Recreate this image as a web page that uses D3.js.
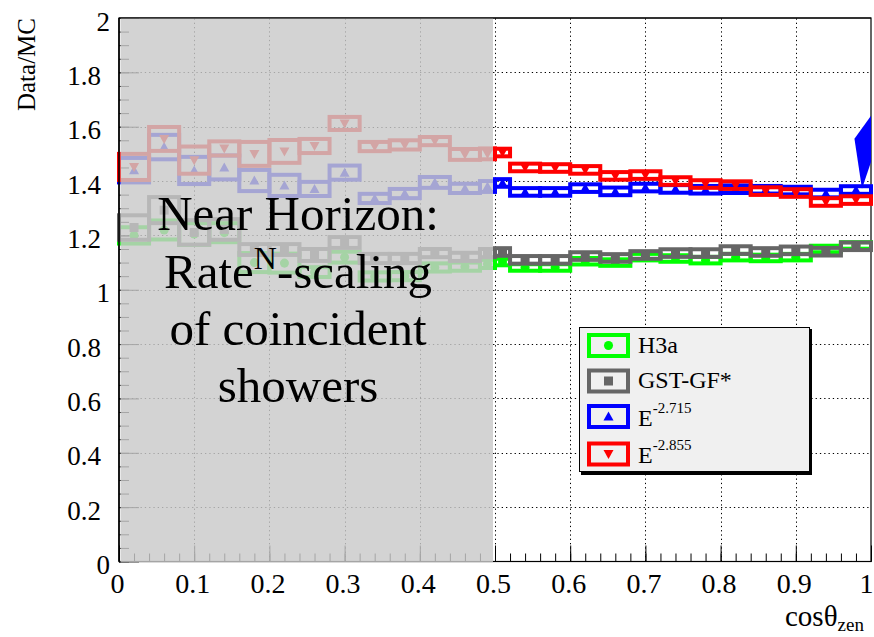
<!DOCTYPE html>
<html>
<head>
<meta charset="utf-8">
<script src="https://cdn.jsdelivr.net/npm/d3@7"></script>
<style>
  body { margin: 0; background: #fff; }
  svg { display: block; }
</style>
</head>
<body>
<svg id="chart" width="874" height="637"></svg>
<script>
// Bin edges in cos(theta_zen): 0.04 wide, split at 0.5
const binEdges = [0.00, 0.04, 0.08, 0.12, 0.16, 0.20, 0.24, 0.28, 0.32, 0.36, 0.40, 0.44, 0.48, 0.50,
                  0.52, 0.56, 0.60, 0.64, 0.68, 0.72, 0.76, 0.80, 0.84, 0.88, 0.92, 0.96, 1.00];

// Data/MC ratio per bin and its uncertainty, one pair of arrays per model
const h3aValues   = [1.200, 1.220, 1.205, 1.210, 1.100, 1.098, 1.065, 1.120, 1.049, 1.050, 1.082, 1.085, 1.095,
                     1.102, 1.082, 1.082, 1.105, 1.100, 1.120, 1.115, 1.109, 1.120, 1.117, 1.120, 1.150, 1.163];
const h3aErrors   = [0.030, 0.035, 0.040, 0.035, 0.035, 0.035, 0.018, 0.020, 0.015, 0.015, 0.015, 0.015, 0.015,
                     0.012, 0.012, 0.012, 0.012, 0.012, 0.012, 0.012, 0.012, 0.012, 0.012, 0.012, 0.012, 0.012];
const gstValues   = [1.229, 1.293, 1.211, 1.222, 1.148, 1.148, 1.128, 1.174, 1.115, 1.115, 1.135, 1.121, 1.135,
                     1.139, 1.110, 1.110, 1.124, 1.117, 1.128, 1.135, 1.135, 1.146, 1.139, 1.145, 1.140, 1.160];
const gstErrors   = [0.045, 0.048, 0.045, 0.038, 0.020, 0.020, 0.022, 0.020, 0.017, 0.017, 0.015, 0.015, 0.015,
                     0.014, 0.014, 0.014, 0.014, 0.014, 0.014, 0.014, 0.014, 0.014, 0.014, 0.014, 0.014, 0.014];
const e2715Values = [1.440, 1.525, 1.439, 1.450, 1.402, 1.384, 1.371, 1.431, 1.336, 1.354, 1.395, 1.373, 1.380,
                     1.393, 1.360, 1.360, 1.374, 1.362, 1.376, 1.371, 1.368, 1.370, 1.368, 1.365, 1.354, 1.367];
const e2715Errors = [0.045, 0.045, 0.050, 0.044, 0.039, 0.039, 0.026, 0.026, 0.017, 0.017, 0.020, 0.017, 0.020,
                     0.014, 0.014, 0.014, 0.014, 0.014, 0.014, 0.014, 0.014, 0.014, 0.014, 0.014, 0.014, 0.014];
const e2855Values = [1.452, 1.555, 1.477, 1.520, 1.500, 1.509, 1.529, 1.612, 1.527, 1.533, 1.547, 1.498, 1.500,
                     1.505, 1.450, 1.448, 1.441, 1.419, 1.422, 1.400, 1.389, 1.385, 1.363, 1.356, 1.323, 1.330];
const e2855Errors = [0.048, 0.044, 0.050, 0.026, 0.044, 0.042, 0.026, 0.024, 0.017, 0.017, 0.015, 0.020, 0.020,
                     0.014, 0.014, 0.014, 0.014, 0.014, 0.014, 0.014, 0.014, 0.014, 0.014, 0.014, 0.014, 0.014];

// Axis ticks
const xTickValues = [0, 0.1, 0.2, 0.3, 0.4, 0.5, 0.6, 0.7, 0.8, 0.9, 1];
const xTickLabels = ["0", "0.1", "0.2", "0.3", "0.4", "0.5", "0.6", "0.7", "0.8", "0.9", "1"];
const yTickValues = [0, 0.2, 0.4, 0.6, 0.8, 1, 1.2, 1.4, 1.6, 1.8, 2];
const yTickLabels = ["0", "0.2", "0.4", "0.6", "0.8", "1", "1.2", "1.4", "1.6", "1.8", "2"];

// Near-horizon region (shaded) and its caption
const shadedRange = [0, 0.5];
const captionLines = ["Near Horizon:", "Rate", "of coincident", "showers"];

// Overflow arrow at the right edge, in (cos, ratio)
const arrowOutline = [[0.978, 1.556], [1.0, 1.640], [1.0, 1.470], [0.988, 1.372]];

const legendLabels = ["H3a", "GST-GF*", "E", "E"];
const legendSup = ["", "", "-2.715", "-2.855"];

const serif = "'Liberation Serif', 'Times New Roman', serif";

const svg = d3.select("#chart");
const x = d3.scaleLinear().domain([0, 1]).range([119, 871]);
const y = d3.scaleLinear().domain([0, 2]).range([561.5, 18]);

const series = [
  { name: "H3a",    values: h3aValues,   errors: h3aErrors,   color: "#00ff00", marker: "circle" },
  { name: "GST",    values: gstValues,   errors: gstErrors,   color: "#666666", marker: "square" },
  { name: "E2715",  values: e2715Values, errors: e2715Errors, color: "#0000ff", marker: "up" },
  { name: "E2855",  values: e2855Values, errors: e2855Errors, color: "#ff0000", marker: "down" }
];

const markerPath = {
  circle: d3.symbol(d3.symbolCircle, 64)(),
  square: d3.symbol(d3.symbolSquare, 81)(),
  up: "M-5,4L5,4L0,-5Z",
  down: "M-5,-4L5,-4L0,5Z"
};

// Frame background
svg.append("rect").attr("width", 874).attr("height", 637).attr("fill", "#fff");

// Dotted grid
const gridG = svg.append("g").attr("stroke", "#000").attr("stroke-width", 1).attr("stroke-dasharray", "1.3,3");
gridG.selectAll("line.gx").data(xTickValues.slice(1, -1)).join("line")
  .attr("x1", d => Math.round(x(d)) + 0.5).attr("x2", d => Math.round(x(d)) + 0.5)
  .attr("y1", y(0)).attr("y2", y(2));
gridG.selectAll("line.gy").data(yTickValues.slice(1, -1)).join("line")
  .attr("y1", d => Math.round(y(d)) + 0.5).attr("y2", d => Math.round(y(d)) + 0.5)
  .attr("x1", x(0)).attr("x2", x(1));

// Axes: minor and major ticks pointing into the frame
const xMinor = d3.axisBottom(x).ticks(50).tickFormat("").tickSize(-8).tickSizeOuter(0);
const gxMinor = svg.append("g").attr("transform", `translate(0,${y(0)})`).call(xMinor);
gxMinor.select(".domain").remove();

const xMajor = d3.axisBottom(x).tickValues(xTickValues)
  .tickFormat((d, i) => xTickLabels[i]).tickSize(-16).tickSizeOuter(0);
const gx = svg.append("g").attr("transform", `translate(0,${y(0)})`).call(xMajor);
gx.select(".domain").remove();
gx.attr("font-family", serif).attr("font-size", 28);
gx.selectAll(".tick text").attr("y", 31).attr("dy", null).attr("x", -2).attr("fill", "#000");
// last label sits against the right edge of the canvas
gx.selectAll(".tick text").filter((d, i) => i === xTickValues.length - 1)
  .attr("text-anchor", "end").attr("x", 2);

const yMinor = d3.axisLeft(y).ticks(40).tickFormat("").tickSize(-10).tickSizeOuter(0);
const gyMinor = svg.append("g").attr("transform", `translate(${x(0)},0)`).call(yMinor);
gyMinor.select(".domain").remove();

const yMajor = d3.axisLeft(y).tickValues(yTickValues)
  .tickFormat((d, i) => yTickLabels[i]).tickSize(-20).tickSizeOuter(0);
const gy = svg.append("g").attr("transform", `translate(${x(0)},0)`).call(yMajor);
gy.select(".domain").remove();
gy.attr("font-family", serif).attr("font-size", 27);
gy.selectAll(".tick text")
  .attr("x", (d, i) => yTickLabels[i].includes(".") ? -18 : -9)
  .attr("y", 12).attr("dy", null).attr("fill", "#000");

// Frame
svg.append("rect")
  .attr("x", x(0)).attr("y", y(2)).attr("width", x(1) - x(0)).attr("height", y(0) - y(2))
  .attr("fill", "none").attr("stroke", "#000").attr("stroke-width", 1.2);

// Histograms: hollow error boxes per bin plus a marker at the bin centre
const bins = binEdges.slice(0, -1).map((lo, i) => ({ lo, hi: binEdges[i + 1], mid: (lo + binEdges[i + 1]) / 2 }));

series.forEach(s => {
  const g = svg.append("g");
  const rows = bins.map((b, i) => ({ ...b, v: s.values[i], e: s.errors[i] }));
  g.selectAll("rect").data(rows).join("rect")
    .attr("x", d => x(d.lo)).attr("width", d => x(d.hi) - x(d.lo))
    .attr("y", d => y(d.v + d.e)).attr("height", d => y(d.v - d.e) - y(d.v + d.e))
    .attr("fill", "none").attr("stroke", s.color).attr("stroke-width", 4)
    .attr("stroke-linejoin", "miter");
  g.selectAll("path").data(rows).join("path")
    .attr("d", markerPath[s.marker])
    .attr("transform", d => `translate(${x(d.mid)},${y(d.v)})`)
    .attr("fill", s.color);
});

// Overflow arrow, clipped to the frame
svg.append("clipPath").attr("id", "frameClip").append("rect")
  .attr("x", x(0)).attr("y", y(2)).attr("width", x(1) - x(0) + 1).attr("height", y(0) - y(2));
svg.append("path")
  .attr("clip-path", "url(#frameClip)")
  .attr("d", d3.line().x(d => x(d[0])).y(d => y(d[1]))(arrowOutline) + "Z")
  .attr("fill", "#0000ff");

// Translucent shading over the near-horizon region
svg.append("rect")
  .attr("x", x(shadedRange[0]) + 1.5).attr("y", y(2))
  .attr("width", x(shadedRange[1]) - x(shadedRange[0]) - 3.5)
  .attr("height", y(0) - y(2) + 1)
  .attr("fill", "rgb(201,201,201)").attr("fill-opacity", 0.82);

// Left and top frame lines stay on top of the shading
svg.append("line").attr("x1", x(0)).attr("x2", x(0)).attr("y1", y(2)).attr("y2", y(0))
  .attr("stroke", "#000").attr("stroke-width", 1.5);
svg.append("line").attr("x1", x(0)).attr("x2", x(1)).attr("y1", y(2)).attr("y2", y(2))
  .attr("stroke", "#000").attr("stroke-width", 1.2);

// Caption inside the shaded region
const capX = 298;
const capBase = [230, 288, 345, 402];
const cap = svg.append("g").attr("font-family", serif).attr("font-size", 49)
  .attr("fill", "#000").attr("text-anchor", "middle");
cap.append("text").attr("x", capX).attr("y", capBase[0]).text(captionLines[0]);
const rateLine = cap.append("text").attr("x", capX).attr("y", capBase[1]);
rateLine.append("tspan").text(captionLines[1]);
rateLine.append("tspan").attr("font-size", 32).attr("dy", -19).text("N");
rateLine.append("tspan").attr("dy", 19).text("-scaling");
cap.append("text").attr("x", capX).attr("y", capBase[2]).text(captionLines[2]);
cap.append("text").attr("x", capX).attr("y", capBase[3]).text(captionLines[3]);

// Axis titles
svg.append("text")
  .attr("transform", "translate(35,18) rotate(-90)")
  .attr("text-anchor", "end").attr("font-family", serif).attr("font-size", 25)
  .text("Data/MC");
const xt = svg.append("text").attr("x", 785).attr("y", 626)
  .attr("font-family", serif).attr("font-size", 29);
xt.append("tspan").text("cosθ");
xt.append("tspan").attr("font-size", 19).attr("dy", 5).text("zen");

// Legend
const lg = svg.append("g");
lg.append("rect").attr("x", 581).attr("y", 329).attr("width", 231).attr("height", 146).attr("fill", "#000");
lg.append("rect").attr("x", 579.5).attr("y", 327.5).attr("width", 230).attr("height", 144)
  .attr("fill", "#f0f0f0").attr("stroke", "#000").attr("stroke-width", 1);
const rowY = [345.5, 381, 416.5, 454];
const textBase = [353, 388, 426, 463];
series.forEach((s, i) => {
  lg.append("rect").attr("x", 589).attr("y", rowY[i] - 10.5).attr("width", 39).attr("height", 21)
    .attr("fill", "none").attr("stroke", s.color).attr("stroke-width", 4);
  lg.append("path").attr("d", markerPath[s.marker])
    .attr("transform", `translate(608.5,${rowY[i]})`).attr("fill", s.color);
  const t = lg.append("text").attr("x", 638).attr("y", textBase[i])
    .attr("font-family", serif).attr("font-size", 24).attr("fill", "#000");
  t.append("tspan").text(legendLabels[i]);
  if (legendSup[i]) t.append("tspan").attr("font-size", 15).attr("dy", -13).text(legendSup[i]);
});
</script>
</body>
</html>
